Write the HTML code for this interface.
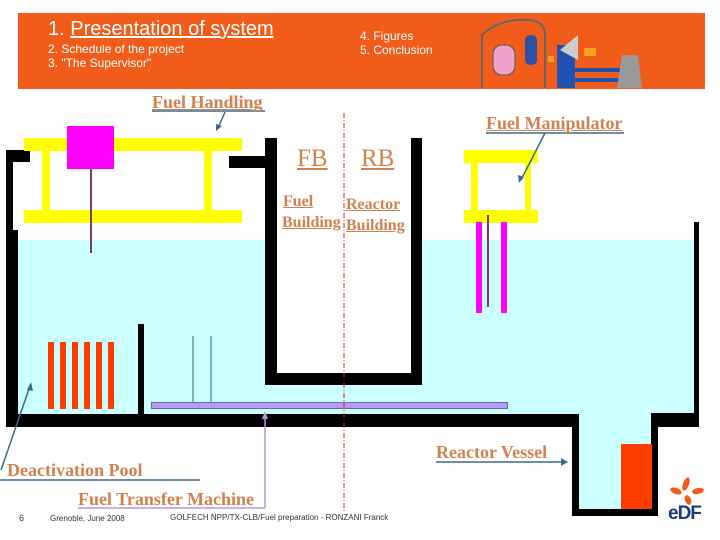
<!DOCTYPE html>
<html><head><meta charset="utf-8"><style>
body{margin:0;width:720px;height:540px;overflow:hidden;background:#fff;position:relative;font-family:"Liberation Sans",sans-serif}
.a{position:absolute}
.lab{position:absolute;font-family:"Liberation Serif",serif;font-weight:bold;color:#d2804e;white-space:nowrap;line-height:1}
.u{text-decoration:underline}
</style></head><body>
<div class="a" style="left:18px;top:13px;width:687px;height:76px;background:#f25c1a"></div>
<div class="a" style="left:48px;top:18px;color:#fff;font-size:20px;white-space:nowrap">1. <span class="u">Presentation of system</span></div>
<div class="a" style="left:48px;top:42px;color:#fff;font-size:12px;line-height:14px;white-space:nowrap">2. Schedule of the project<br>3. "The Supervisor"</div>
<div class="a" style="left:360px;top:29px;color:#fff;font-size:12px;line-height:14px;white-space:nowrap">4. Figures<br>5. Conclusion</div>
<svg class="a" style="left:0;top:0" width="720" height="540">
<path d="M482 88 V35 Q500 18 530 20 Q545 22 545 35 V88" fill="none" stroke="#666" stroke-width="2"/>
<rect x="493" y="45" width="22" height="30" rx="9" fill="#f0a0c8" stroke="#555"/>
<rect x="525" y="35" width="12" height="30" rx="5" fill="#3050a0"/>
<rect x="557" y="45" width="18" height="43" fill="#2050b0"/>
<polygon points="560,50 578,35 578,60" fill="#ccc"/>
<rect x="584" y="48" width="12" height="8" fill="#f8a020"/>
<path d="M570 70 H620 M570 80 H620" stroke="#2050b0" stroke-width="4"/>
<path d="M617 88 L622 55 H638 L642 88 Z" fill="#999"/>
<rect x="548" y="56" width="6" height="6" fill="#f8a020"/>
<rect x="18" y="240" width="676" height="174" fill="#ccffff"/>
<rect x="579" y="413" width="72" height="96" fill="#ccffff"/>
<rect x="277" y="238" width="134" height="135" fill="#fff"/>
<g fill="#000">
<rect x="6" y="150" width="24" height="12"/>
<rect x="6" y="150" width="7" height="277"/>
<rect x="6" y="230" width="12" height="197"/>
<rect x="6" y="414" width="573" height="13"/>
<rect x="229" y="156" width="36" height="12"/>
<rect x="265" y="138" width="12" height="247"/>
<rect x="265" y="373" width="157" height="12"/>
<rect x="411" y="138" width="11" height="247"/>
<rect x="572" y="414" width="7" height="102"/>
<rect x="572" y="509" width="86" height="7"/>
<rect x="651" y="413" width="7" height="103"/>
<rect x="651" y="413" width="48" height="14"/>
<rect x="694" y="222" width="5" height="205"/>
<rect x="138" y="324" width="6" height="90"/>
</g>
<g fill="#ffff00">
<rect x="24" y="138" width="218" height="13"/>
<rect x="24" y="210" width="218" height="13"/>
<rect x="42" y="151" width="8" height="59"/>
<rect x="204" y="151" width="8" height="59"/>
<rect x="464" y="150" width="74" height="13"/>
<rect x="464" y="210" width="74" height="13"/>
<rect x="471" y="163" width="7" height="47"/>
<rect x="525" y="163" width="6" height="47"/>
</g>
<rect x="67" y="126" width="47" height="43" fill="#ff00ff"/>
<line x1="91" y1="169" x2="91" y2="253" stroke="#7a3a6a" stroke-width="2"/>
<rect x="476" y="222" width="6" height="91" fill="#ff00ff"/>
<rect x="501" y="222" width="6" height="91" fill="#ff00ff"/>
<line x1="488" y1="215" x2="488" y2="307" stroke="#7a3a6a" stroke-width="2"/>
<g fill="#ff3c00">
<rect x="48" y="342" width="6" height="67"/><rect x="60" y="342" width="6" height="67"/><rect x="72" y="342" width="6" height="67"/><rect x="84" y="342" width="6" height="67"/><rect x="96" y="342" width="6" height="67"/><rect x="108" y="342" width="6" height="67"/>
<rect x="621" y="444" width="31" height="65"/>
</g>
<line x1="193" y1="336" x2="193" y2="403" stroke="#3a6a7a"/>
<line x1="211" y1="336" x2="211" y2="403" stroke="#3a6a7a"/>
<rect x="151.5" y="402.5" width="356" height="6" fill="#bb99f0" stroke="#5a70b0"/>
<line x1="344" y1="113" x2="344" y2="513" stroke="#e02020" stroke-dasharray="5,2,1,2"/>
<g stroke="#3a6a8a" stroke-width="1.5" fill="none">
<line x1="152" y1="111" x2="265" y2="111"/><line x1="225" y1="112" x2="218" y2="128"/>
<line x1="486" y1="133" x2="624" y2="133"/><line x1="545" y1="133" x2="521" y2="180"/>
<line x1="0" y1="480" x2="200" y2="480"/><line x1="1" y1="470" x2="30" y2="386"/>
<line x1="436" y1="462" x2="564" y2="462"/>
</g>
<g fill="#3a6a8a">
<polygon points="216,131 216,124 222,126"/>
<polygon points="519,183 518,175 524,177"/>
<polygon points="31,382 27,390 33,391"/>
<polygon points="568,462 561,458 561,466"/>
</g>
<line x1="78" y1="508" x2="265" y2="508" stroke="#b898e0" stroke-width="1.5"/>
<line x1="265" y1="508" x2="265" y2="416" stroke="#b898e0" stroke-width="1.5"/>
<polygon points="265,411 262,419 268,419" fill="#b898e0"/>
<g fill="#f25c1a">
<ellipse cx="686" cy="484" rx="3" ry="7" transform="rotate(20 686 484)"/>
<ellipse cx="698" cy="491" rx="3" ry="6" transform="rotate(80 698 491)"/>
<ellipse cx="676" cy="491" rx="3" ry="6" transform="rotate(-70 676 491)"/>
<ellipse cx="688" cy="500" rx="3" ry="5" transform="rotate(-20 688 500)"/>
</g>
</svg>
<div class="a" style="left:668px;top:503px;font-size:19px;font-weight:bold;color:#1a3a7a;letter-spacing:-1px">eDF</div>
<div class="lab u" style="left:152px;top:93px;font-size:18px">Fuel Handling</div>
<div class="lab u" style="left:486px;top:114px;font-size:18px">Fuel Manipulator</div>
<div class="lab u" style="left:297px;top:146px;font-size:25px;font-weight:normal">FB</div>
<div class="lab u" style="left:361px;top:146px;font-size:25px;font-weight:normal">RB</div>
<div class="lab u" style="left:283px;top:194px;font-size:16px">Fuel</div>
<div class="lab u" style="left:282px;top:215px;font-size:16px">Building</div>
<div class="lab u" style="left:346px;top:197px;font-size:16px">Reactor</div>
<div class="lab u" style="left:346px;top:218px;font-size:16px">Building</div>
<div class="lab" style="left:7px;top:461px;font-size:18px">Deactivation Pool</div>
<div class="lab" style="left:436px;top:443px;font-size:18px">Reactor Vessel</div>
<div class="lab" style="left:78px;top:490px;font-size:18px">Fuel Transfer Machine</div>
<div class="a" style="left:19px;top:513px;font-size:9px;color:#333">6</div>
<div class="a" style="left:50px;top:514px;font-size:8px;color:#333;white-space:nowrap">Grenoble, June 2008</div>
<div class="a" style="left:170px;top:513px;font-size:8px;color:#333;white-space:nowrap">GOLFECH NPP/TX-CLB/Fuel preparation - RONZANI Franck</div>
</body></html>
